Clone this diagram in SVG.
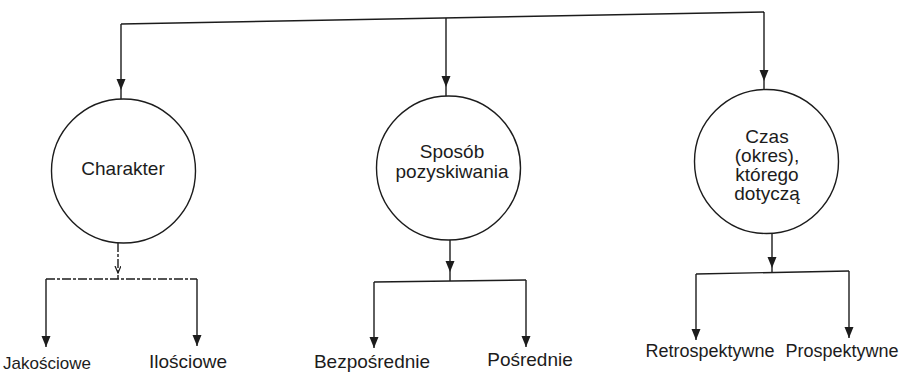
<svg xmlns="http://www.w3.org/2000/svg" width="910" height="374" viewBox="0 0 910 374">
  <style>
    .node { fill: #ffffff; stroke: #1c1c1c; stroke-width: 1.4; }
    .label { font-family: "Liberation Sans", Arial, sans-serif; font-size: 19px; fill: #1c1c1c; text-anchor: middle; }
    .link { fill: none; stroke: #1c1c1c; stroke-width: 1.4; }
    .dash { stroke-dasharray: 9 2 3 2; }
  </style>
  <defs>
    <marker id="arrow" markerUnits="userSpaceOnUse" markerWidth="12" markerHeight="10" refX="11" refY="4.5" orient="auto">
      <path d="M0,0 L11,4.5 L0,9 z" fill="#1c1c1c"/>
    </marker>
    <marker id="arrow-small" markerUnits="userSpaceOnUse" markerWidth="8" markerHeight="8" refX="7" refY="3" orient="auto">
      <path d="M0,0 L7,3 L0,6" fill="none" stroke="#1c1c1c" stroke-width="1.2"/>
    </marker>
  </defs>

  <!-- connectors -->
  <g id="connectors">
    <!-- top bar feeding the three criteria -->
    <path class="link" d="M121,24 L764,12"/>
    <path class="link" d="M121,24 V90 V99" marker-mid="url(#arrow)"/>
    <path class="link" d="M446,18 V87 V96" marker-mid="url(#arrow)"/>
    <path class="link" d="M764,12 V81 V89.5" marker-mid="url(#arrow)"/>

    <!-- Charakter branch -->
    <path class="link dash" d="M118,243 V273 V279" marker-mid="url(#arrow-small)"/>
    <path class="link dash" d="M46,279 H197"/>
    <path class="link" d="M46,279 V347" marker-end="url(#arrow)"/>
    <path class="link" d="M197,279 V346" marker-end="url(#arrow)"/>

    <!-- Sposób pozyskiwania branch -->
    <path class="link" d="M450,240 V272 V281" marker-mid="url(#arrow)"/>
    <path class="link" d="M374,282 L526,280"/>
    <path class="link" d="M374,282 V348" marker-end="url(#arrow)"/>
    <path class="link" d="M526,280 V347" marker-end="url(#arrow)"/>

    <!-- Czas branch -->
    <path class="link" d="M772,234 V268 V272.5" marker-mid="url(#arrow)"/>
    <path class="link" d="M696,274 L849,271"/>
    <path class="link" d="M696,274 V340" marker-end="url(#arrow)"/>
    <path class="link" d="M849,271 V338" marker-end="url(#arrow)"/>
  </g>

  <!-- criteria -->
  <g id="charakter">
    <circle class="node" cx="123.5" cy="171" r="72"/>
    <text class="label" x="123" y="175">Charakter</text>
  </g>
  <g id="sposob">
    <circle class="node" cx="448.5" cy="168" r="72"/>
    <text class="label" x="452" y="158">Sposób</text>
    <text class="label" x="452" y="178">pozyskiwania</text>
  </g>
  <g id="czas">
    <circle class="node" cx="766.5" cy="161.5" r="72"/>
    <text class="label" x="767" y="143">Czas</text>
    <text class="label" x="767" y="162">(okres),</text>
    <text class="label" x="767" y="181">którego</text>
    <text class="label" x="767" y="200">dotyczą</text>
  </g>

  <!-- categories -->
  <g id="jakosciowe"><text class="label" x="3" y="369" style="text-anchor:start;font-size:17px">Jakościowe</text></g>
  <g id="ilosciowe"><text class="label" x="188" y="368">Ilościowe</text></g>
  <g id="bezposrednie"><text class="label" x="372" y="368">Bezpośrednie</text></g>
  <g id="posrednie"><text class="label" x="530" y="366">Pośrednie</text></g>
  <g id="retrospektywne"><text class="label" x="710" y="357" style="font-size:18px">Retrospektywne</text></g>
  <g id="prospektywne"><text class="label" x="842" y="357" style="font-size:18px">Prospektywne</text></g>
</svg>
